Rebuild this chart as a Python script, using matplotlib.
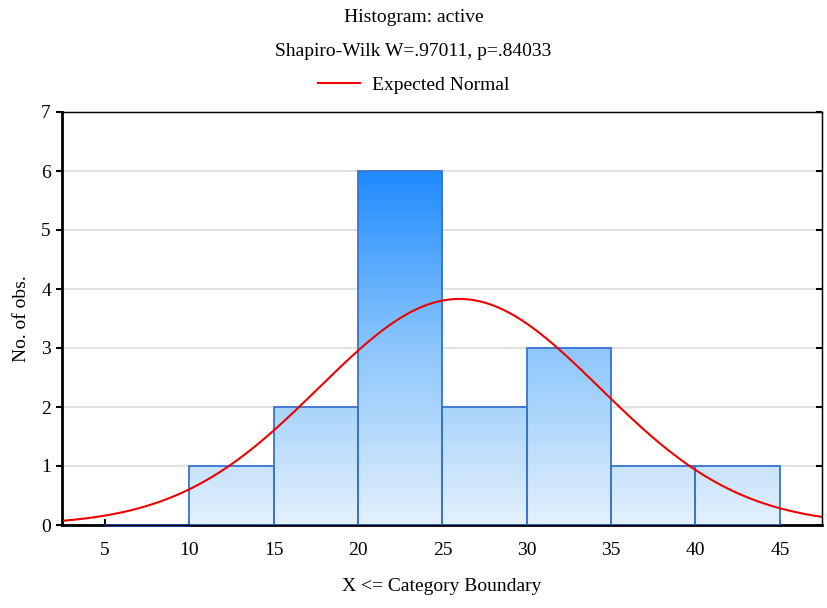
import numpy as np
import matplotlib.pyplot as plt
from matplotlib.colors import LinearSegmentedColormap

# Histogram data (category upper boundaries, counts)
bin_left = [5, 10, 15, 20, 25, 30, 35, 40]
counts = [0, 1, 2, 6, 2, 3, 1, 1]
bin_width = 5
n_obs = 16
fit_mean = 26.0
fit_sd = 8.33

plt.rcParams['font.family'] = ['Liberation Serif', 'DejaVu Serif']

fig = plt.figure(figsize=(8.27, 6.08), dpi=100)
ax = fig.add_axes([62 / 827, 1 - 525 / 608, 760 / 827, 413 / 608])

ax.set_xlim(2.45, 47.5)
ax.set_ylim(0, 7)

# grid
ax.set_axisbelow(True)
ax.yaxis.grid(True, color='#dddddd', linewidth=1.2)

# gradient bars
cmap = LinearSegmentedColormap.from_list('blues', ['#e4f1fd', '#8cc6fb', '#1e8bff'])
grad = np.linspace(0, 1, 256).reshape(-1, 1)
bars = ax.bar(bin_left, counts, width=bin_width, align='edge',
              facecolor='none', edgecolor='#3a72d0', linewidth=1.3, zorder=3)
for b, c in zip(bars, counts):
    if c == 0:
        continue
    im = ax.imshow(grad, cmap=cmap, origin='lower', aspect='auto',
                   extent=[2.45, 47.5, 0, 6], zorder=2)
    im.set_clip_path(b)
# zero-height category drawn as a line
ax.plot([5, 10], [0, 0], color='#1f3f90', linewidth=2, zorder=4, clip_on=False)

# expected normal curve
xs = np.linspace(2.45, 47.5, 400)
ys = n_obs * bin_width / (fit_sd * np.sqrt(2 * np.pi)) * np.exp(-(xs - fit_mean) ** 2 / (2 * fit_sd ** 2))
ax.plot(xs, ys, color='#ee0000', linewidth=1.5, zorder=5, label='Expected Normal')

ax.set_xticks([5, 10, 15, 20, 25, 30, 35, 40, 45])
ax.set_yticks(range(0, 8))
ax.tick_params(axis='x', direction='in', length=4, width=1.5, labelsize=14, pad=12)
ax.tick_params(axis='y', direction='out', length=4, width=1.5, labelsize=14, pad=4)
for side in ['left', 'bottom']:
    ax.spines[side].set_linewidth(2)
for side in ['right', 'top']:
    ax.spines[side].set_linewidth(1)

# right-hand inward ticks
axr = ax.twinx()
axr.set_ylim(ax.get_ylim())
axr.set_yticks(range(0, 8))
axr.tick_params(axis='y', direction='in', length=4, width=1.5, labelright=False)

ax.set_xlabel('X <= Category Boundary', fontsize=14, labelpad=14)
ax.set_ylabel('No. of obs.', fontsize=14, labelpad=8)

fig.text(0.5, 1 - 17 / 608, 'Histogram: active', ha='center', va='center', fontsize=14)
fig.text(0.5, 1 - 51 / 608, 'Shapiro-Wilk W=.97011, p=.84033', ha='center', va='center', fontsize=14)
fig.legend(handles=ax.get_lines()[1:], loc='center', bbox_to_anchor=(0.5, 1 - 85 / 608), frameon=False,
           fontsize=14, handlelength=2.2, handletextpad=0.6)

fig.savefig('out.png', dpi=100)
